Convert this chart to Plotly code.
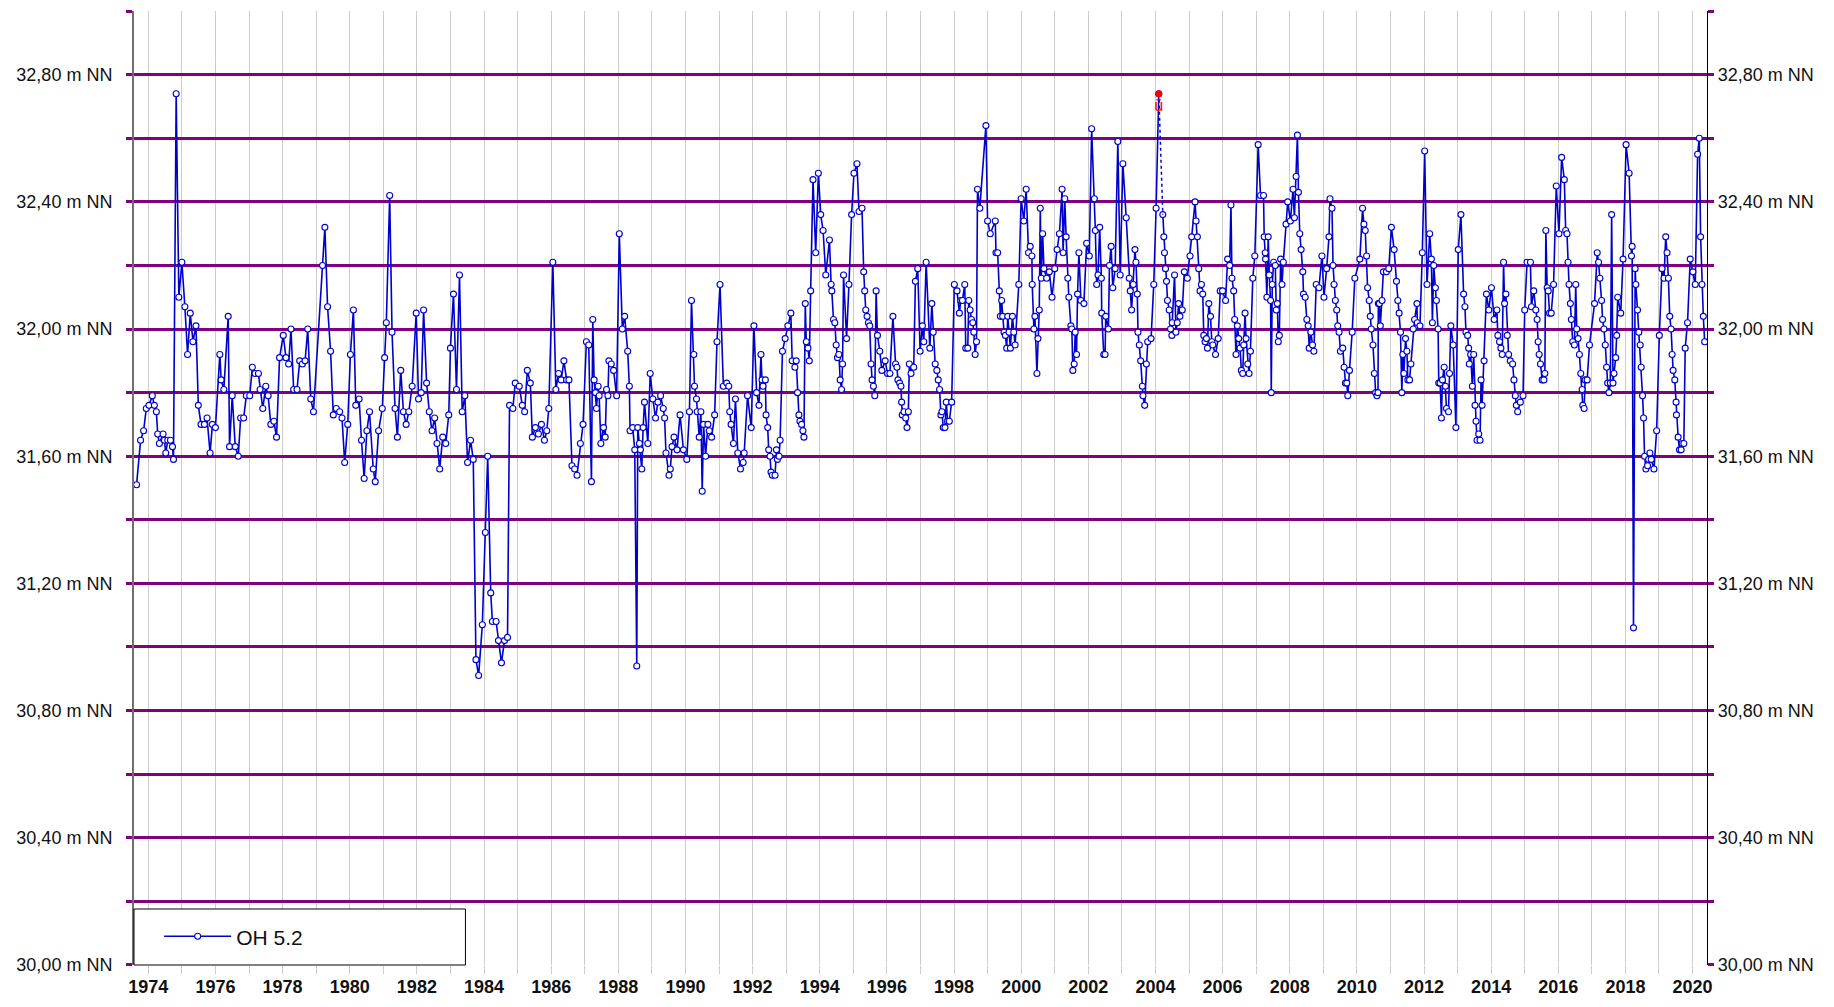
import plotly.graph_objects as go

# ---------------- data (decimal year, water level in m NN) ----------------
obs_1973_1979 = [
    (1973.65, 31.51), (1973.77, 31.65), (1973.86, 31.68), (1973.94, 31.75), (1974.02, 31.76),
    (1974.12, 31.79), (1974.18, 31.76), (1974.24, 31.74), (1974.28, 31.67), (1974.33, 31.64),
    (1974.44, 31.67), (1974.48, 31.65), (1974.52, 31.61), (1974.58, 31.65), (1974.66, 31.65),
    (1974.72, 31.63), (1974.75, 31.59), (1974.83, 32.74), (1974.91, 32.10), (1975.00, 32.21),
    (1975.09, 32.07), (1975.17, 31.92), (1975.25, 32.05), (1975.33, 31.96), (1975.42, 32.01),
    (1975.49, 31.76), (1975.57, 31.70), (1975.67, 31.70), (1975.75, 31.72), (1975.84, 31.61),
    (1975.91, 31.70), (1976.00, 31.69), (1976.13, 31.92), (1976.17, 31.84), (1976.25, 31.81),
    (1976.38, 32.04), (1976.42, 31.63), (1976.50, 31.79), (1976.59, 31.63), (1976.68, 31.60),
    (1976.75, 31.72), (1976.84, 31.72), (1976.92, 31.79), (1977.02, 31.79), (1977.10, 31.88),
    (1977.18, 31.86), (1977.28, 31.86), (1977.33, 31.81), (1977.41, 31.75), (1977.50, 31.82),
    (1977.57, 31.79), (1977.65, 31.70), (1977.74, 31.71), (1977.82, 31.66), (1977.91, 31.91),
    (1978.02, 31.98), (1978.10, 31.91), (1978.18, 31.89), (1978.25, 32.00), (1978.33, 31.81),
    (1978.43, 31.81), (1978.51, 31.90), (1978.59, 31.89), (1978.67, 31.90), (1978.75, 32.00),
    (1978.84, 31.78), (1978.92, 31.74), (1979.19, 32.20), (1979.26, 32.32),
]

obs_1979_1985 = [
    (1979.34, 32.07), (1979.43, 31.93), (1979.51, 31.73), (1979.60, 31.75), (1979.70, 31.74),
    (1979.77, 31.72), (1979.85, 31.58), (1979.94, 31.70), (1980.02, 31.92), (1980.11, 32.06),
    (1980.18, 31.76), (1980.28, 31.78), (1980.35, 31.65), (1980.43, 31.53), (1980.51, 31.68),
    (1980.59, 31.74), (1980.70, 31.56), (1980.76, 31.52), (1980.86, 31.68), (1980.97, 31.75),
    (1981.04, 31.91), (1981.09, 32.02), (1981.19, 32.42), (1981.26, 31.99), (1981.35, 31.75),
    (1981.42, 31.66), (1981.52, 31.87), (1981.60, 31.74), (1981.68, 31.70), (1981.76, 31.74),
    (1981.86, 31.82), (1981.98, 32.05), (1982.05, 31.78), (1982.13, 31.80), (1982.20, 32.06),
    (1982.29, 31.83), (1982.37, 31.74), (1982.45, 31.68), (1982.53, 31.72), (1982.60, 31.64),
    (1982.68, 31.56), (1982.77, 31.66), (1982.86, 31.64), (1982.95, 31.73), (1983.00, 31.94),
    (1983.09, 32.11), (1983.18, 31.81), (1983.27, 32.17), (1983.35, 31.74), (1983.43, 31.79),
    (1983.51, 31.58), (1983.60, 31.65), (1983.68, 31.59), (1983.76, 30.96), (1983.84, 30.91),
    (1983.95, 31.07), (1984.04, 31.36), (1984.11, 31.60), (1984.20, 31.17), (1984.25, 31.08),
    (1984.36, 31.08), (1984.43, 31.02), (1984.52, 30.95), (1984.61, 31.02), (1984.70, 31.03),
    (1984.76, 31.76), (1984.86, 31.75), (1984.93, 31.83), (1985.05, 31.82), (1985.14, 31.76),
    (1985.21, 31.74),
]

obs_1985_1991 = [
    (1985.29, 31.87), (1985.38, 31.83), (1985.44, 31.66), (1985.53, 31.69), (1985.62, 31.67),
    (1985.71, 31.70), (1985.80, 31.65), (1985.87, 31.68), (1985.93, 31.75), (1986.05, 32.21),
    (1986.14, 31.81), (1986.22, 31.86), (1986.30, 31.84), (1986.38, 31.90), (1986.46, 31.84),
    (1986.53, 31.84), (1986.62, 31.57), (1986.70, 31.56), (1986.77, 31.54), (1986.87, 31.64),
    (1986.95, 31.70), (1987.05, 31.96), (1987.12, 31.95), (1987.20, 31.52), (1987.24, 32.03),
    (1987.28, 31.84), (1987.32, 31.80), (1987.35, 31.75), (1987.40, 31.82), (1987.43, 31.79),
    (1987.48, 31.64), (1987.56, 31.69), (1987.61, 31.66), (1987.65, 31.81), (1987.69, 31.79),
    (1987.72, 31.90), (1987.79, 31.89), (1987.86, 31.87), (1987.95, 31.79), (1988.03, 32.30),
    (1988.12, 32.00), (1988.19, 32.04), (1988.28, 31.93), (1988.33, 31.82), (1988.35, 31.68),
    (1988.43, 31.69), (1988.49, 31.62), (1988.55, 30.94), (1988.58, 31.69), (1988.63, 31.64),
    (1988.66, 31.62), (1988.70, 31.56), (1988.74, 31.69), (1988.78, 31.77), (1988.88, 31.64),
    (1988.95, 31.86), (1989.03, 31.78), (1989.11, 31.72), (1989.18, 31.77), (1989.26, 31.79),
    (1989.34, 31.75), (1989.38, 31.72), (1989.42, 31.61), (1989.51, 31.54), (1989.55, 31.56),
    (1989.60, 31.63), (1989.66, 31.66), (1989.75, 31.62), (1989.84, 31.73), (1989.94, 31.62),
    (1990.04, 31.59), (1990.12, 31.74), (1990.18, 32.09), (1990.25, 31.92), (1990.27, 31.82),
    (1990.33, 31.78), (1990.35, 31.74), (1990.41, 31.66), (1990.46, 31.74), (1990.50, 31.49),
    (1990.54, 31.70), (1990.60, 31.60), (1990.67, 31.70), (1990.71, 31.68), (1990.78, 31.66),
    (1990.87, 31.73), (1990.94, 31.96), (1991.03, 32.14), (1991.13, 31.82),
]

obs_1991_1997 = [
    (1991.23, 31.83), (1991.29, 31.82), (1991.32, 31.74), (1991.36, 31.70), (1991.43, 31.64),
    (1991.49, 31.78), (1991.56, 31.61), (1991.64, 31.56), (1991.72, 31.58), (1991.75, 31.61),
    (1991.85, 31.79), (1991.96, 31.69), (1992.04, 32.01), (1992.12, 31.80), (1992.19, 31.76),
    (1992.25, 31.92), (1992.28, 31.84), (1992.31, 31.82), (1992.38, 31.84), (1992.40, 31.73),
    (1992.45, 31.69), (1992.48, 31.62), (1992.52, 31.60), (1992.55, 31.55), (1992.59, 31.54),
    (1992.67, 31.54), (1992.71, 31.62), (1992.74, 31.59), (1992.79, 31.60), (1992.82, 31.65),
    (1992.89, 31.93), (1992.97, 31.97), (1993.05, 32.01), (1993.14, 32.05), (1993.18, 31.90),
    (1993.26, 31.88), (1993.30, 31.90), (1993.34, 31.80), (1993.38, 31.73), (1993.41, 31.71),
    (1993.46, 31.70), (1993.50, 31.68), (1993.53, 31.66), (1993.57, 32.08), (1993.60, 31.96),
    (1993.65, 31.94), (1993.69, 31.90), (1993.73, 32.12), (1993.80, 32.47), (1993.88, 32.24),
    (1993.96, 32.49), (1994.03, 32.36), (1994.10, 32.31), (1994.18, 32.17), (1994.29, 32.28),
    (1994.34, 32.14), (1994.36, 32.12), (1994.41, 32.03), (1994.45, 32.02), (1994.49, 31.95),
    (1994.53, 31.91), (1994.57, 31.92), (1994.61, 31.84), (1994.65, 31.81), (1994.68, 31.89),
    (1994.71, 32.17), (1994.80, 31.97), (1994.87, 32.14), (1994.95, 32.36), (1995.02, 32.49),
    (1995.11, 32.52), (1995.17, 32.37), (1995.26, 32.38), (1995.31, 32.18), (1995.34, 32.12),
    (1995.37, 32.06), (1995.41, 32.04), (1995.45, 32.02), (1995.49, 32.01), (1995.53, 31.89),
    (1995.56, 31.84), (1995.60, 31.82), (1995.64, 31.79), (1995.68, 32.12), (1995.72, 31.98),
    (1995.79, 31.93), (1995.85, 31.87), (1995.95, 31.90), (1996.02, 31.86), (1996.09, 31.86),
    (1996.18, 32.04), (1996.26, 31.89), (1996.30, 31.88), (1996.33, 31.84), (1996.38, 31.83),
    (1996.42, 31.82), (1996.44, 31.77), (1996.46, 31.73), (1996.51, 31.74), (1996.56, 31.72),
    (1996.60, 31.69), (1996.64, 31.74), (1996.67, 31.89), (1996.72, 31.86), (1996.80, 31.88),
    (1996.85, 32.15), (1996.92, 32.19), (1996.99, 31.93), (1997.06, 32.01), (1997.10, 31.96),
]

obs_1997_2003 = [
    (1997.17, 32.21), (1997.28, 31.94), (1997.34, 32.08), (1997.38, 31.99), (1997.44, 31.89),
    (1997.49, 31.87), (1997.53, 31.84), (1997.57, 31.81), (1997.61, 31.73), (1997.64, 31.74),
    (1997.68, 31.69), (1997.73, 31.69), (1997.77, 31.77), (1997.81, 31.71), (1997.86, 31.71),
    (1997.93, 31.77), (1998.01, 32.14), (1998.09, 32.12), (1998.16, 32.05), (1998.20, 32.09),
    (1998.25, 32.09), (1998.32, 32.14), (1998.35, 31.94), (1998.41, 31.94), (1998.44, 32.09),
    (1998.48, 32.06), (1998.52, 32.03), (1998.56, 32.02), (1998.59, 31.99), (1998.63, 31.92),
    (1998.67, 31.96), (1998.70, 32.44), (1998.77, 32.38), (1998.95, 32.64), (1999.00, 32.34),
    (1999.08, 32.30), (1999.23, 32.34), (1999.25, 32.24), (1999.30, 32.24), (1999.35, 32.12),
    (1999.38, 32.04), (1999.42, 32.09), (1999.45, 32.04), (1999.49, 31.99), (1999.53, 31.98),
    (1999.57, 31.94), (1999.60, 32.04), (1999.64, 31.99), (1999.68, 31.94), (1999.74, 32.04),
    (1999.78, 31.99), (1999.82, 31.95), (1999.93, 32.14), (2000.00, 32.41), (2000.08, 32.34),
    (2000.15, 32.44), (2000.22, 32.24), (2000.27, 32.26), (2000.32, 32.23), (2000.33, 32.14),
    (2000.38, 32.00), (2000.41, 32.04), (2000.47, 31.86), (2000.50, 31.97), (2000.54, 32.06),
    (2000.57, 32.38), (2000.60, 32.16), (2000.64, 32.30), (2000.68, 32.19), (2000.76, 32.16),
    (2000.84, 32.18), (2000.92, 32.10), (2001.00, 32.19), (2001.07, 32.25), (2001.14, 32.30),
    (2001.22, 32.44), (2001.25, 32.24), (2001.30, 32.41), (2001.34, 32.29), (2001.39, 32.16),
    (2001.42, 32.10), (2001.48, 32.01), (2001.51, 32.00), (2001.54, 31.87), (2001.58, 31.89),
    (2001.61, 31.99), (2001.65, 31.92), (2001.68, 32.11), (2001.72, 32.24), (2001.78, 32.09),
    (2001.87, 32.08), (2001.95, 32.27), (2002.03, 32.23), (2002.10, 32.63), (2002.18, 32.41),
    (2002.21, 32.31), (2002.25, 32.14), (2002.29, 32.17), (2002.34, 32.32), (2002.39, 32.16),
    (2002.40, 32.05), (2002.46, 31.92), (2002.50, 31.92), (2002.52, 32.04), (2002.60, 32.00),
    (2002.63, 32.20), (2002.68, 32.26), (2002.73, 32.13), (2002.80, 32.19), (2002.88, 32.59),
    (2002.95, 32.17), (2003.03, 32.52),
]

obs_2003_2009 = [
    (2003.13, 32.35), (2003.22, 32.16), (2003.25, 32.12), (2003.29, 32.06), (2003.34, 32.14),
    (2003.39, 32.25), (2003.42, 32.21), (2003.46, 32.11), (2003.48, 31.99), (2003.52, 31.95),
    (2003.56, 31.90), (2003.61, 31.82), (2003.63, 31.79), (2003.68, 31.76), (2003.73, 31.89),
    (2003.77, 31.96), (2003.87, 31.97), (2003.95, 32.14), (2004.02, 32.38),
    (2004.22, 32.36), (2004.25, 32.29), (2004.27, 32.24), (2004.30, 32.19), (2004.33, 32.15),
    (2004.36, 32.09), (2004.41, 32.06), (2004.45, 32.00), (2004.49, 31.98), (2004.50, 32.02),
    (2004.57, 32.17), (2004.61, 31.99), (2004.65, 32.02), (2004.69, 32.08), (2004.73, 32.04),
    (2004.80, 32.06), (2004.86, 32.18), (2004.95, 32.16), (2005.03, 32.23), (2005.08, 32.29),
    (2005.18, 32.40), (2005.21, 32.34), (2005.25, 32.29), (2005.29, 32.19), (2005.33, 32.12),
    (2005.37, 32.14), (2005.41, 32.11), (2005.44, 31.98), (2005.48, 31.96), (2005.52, 31.97),
    (2005.55, 31.94), (2005.59, 32.08), (2005.64, 32.04), (2005.68, 31.96), (2005.71, 31.95),
    (2005.79, 31.92), (2005.87, 31.97), (2005.93, 32.12), (2006.00, 32.12), (2006.09, 32.09),
    (2006.15, 32.22), (2006.21, 32.20), (2006.25, 32.39), (2006.28, 32.16), (2006.33, 32.12),
    (2006.36, 32.03), (2006.40, 31.92), (2006.44, 32.01), (2006.48, 31.97), (2006.52, 31.94),
    (2006.56, 31.87), (2006.60, 31.86), (2006.63, 31.95), (2006.67, 32.05), (2006.70, 31.97),
    (2006.75, 31.89), (2006.79, 31.86), (2006.83, 31.93), (2006.90, 32.16), (2006.96, 32.23),
    (2007.06, 32.58), (2007.13, 32.42), (2007.22, 32.42), (2007.24, 32.29), (2007.27, 32.24),
    (2007.28, 32.22), (2007.32, 32.10), (2007.36, 32.29), (2007.39, 32.17), (2007.43, 32.09),
    (2007.45, 31.80), (2007.48, 32.14), (2007.52, 32.21), (2007.57, 32.20), (2007.60, 32.06),
    (2007.63, 32.08), (2007.66, 31.96), (2007.69, 31.98), (2007.73, 32.22), (2007.77, 32.14),
    (2007.81, 32.21), (2007.89, 32.33), (2007.94, 32.40), (2008.02, 32.34), (2008.10, 32.44),
    (2008.14, 32.35), (2008.19, 32.48), (2008.23, 32.61), (2008.26, 32.43), (2008.30, 32.30),
    (2008.34, 32.25), (2008.39, 32.18), (2008.41, 32.11), (2008.46, 32.10), (2008.51, 32.03),
    (2008.55, 32.01), (2008.58, 31.94), (2008.63, 31.99), (2008.68, 31.95), (2008.72, 31.93),
    (2008.79, 32.14), (2008.87, 32.13), (2008.96, 32.23), (2009.02, 32.10),
]

obs_2009_2015 = [
    (2009.10, 32.19), (2009.17, 32.29), (2009.20, 32.41), (2009.26, 32.38), (2009.29, 32.20),
    (2009.32, 32.14), (2009.36, 32.09), (2009.40, 32.06), (2009.43, 32.01), (2009.47, 31.99),
    (2009.51, 31.93), (2009.58, 31.94), (2009.62, 31.88), (2009.66, 31.83), (2009.70, 31.83),
    (2009.73, 31.79), (2009.78, 31.87), (2009.86, 31.99), (2009.94, 32.16), (2010.09, 32.22),
    (2010.17, 32.38), (2010.21, 32.33), (2010.25, 32.31), (2010.29, 32.23), (2010.32, 32.13),
    (2010.37, 32.09), (2010.40, 32.04), (2010.43, 32.00), (2010.48, 31.95), (2010.52, 31.86),
    (2010.56, 31.80), (2010.60, 31.79), (2010.63, 31.80), (2010.64, 32.08), (2010.67, 32.08),
    (2010.70, 32.01), (2010.75, 32.09), (2010.79, 32.18), (2010.88, 32.18), (2010.95, 32.19),
    (2011.03, 32.32), (2011.11, 32.25), (2011.18, 32.15), (2011.22, 32.09), (2011.26, 32.05),
    (2011.30, 31.99), (2011.34, 31.80), (2011.37, 31.92), (2011.40, 31.86), (2011.45, 31.97),
    (2011.49, 31.93), (2011.52, 31.84), (2011.57, 31.84), (2011.61, 31.89), (2011.68, 32.00),
    (2011.72, 32.03), (2011.79, 32.08), (2011.80, 32.02), (2011.88, 32.01), (2011.95, 32.24),
    (2012.02, 32.56), (2012.09, 32.14), (2012.17, 32.30), (2012.22, 32.22), (2012.25, 32.02),
    (2012.29, 32.20), (2012.34, 32.13), (2012.37, 32.09), (2012.42, 32.00), (2012.44, 31.83),
    (2012.48, 31.83), (2012.52, 31.72), (2012.55, 31.84), (2012.60, 31.88), (2012.64, 31.82),
    (2012.67, 31.75), (2012.73, 31.74), (2012.76, 31.86), (2012.80, 32.01), (2012.87, 31.95),
    (2012.95, 31.69), (2013.02, 32.25), (2013.10, 32.36), (2013.18, 32.11), (2013.22, 32.07),
    (2013.25, 31.99), (2013.30, 31.98), (2013.33, 31.94), (2013.35, 31.89), (2013.39, 31.92),
    (2013.44, 31.82), (2013.48, 31.92), (2013.52, 31.76), (2013.55, 31.71), (2013.58, 31.65),
    (2013.63, 31.67), (2013.67, 31.65), (2013.70, 31.84), (2013.73, 31.76), (2013.79, 31.90),
    (2013.86, 32.11), (2013.93, 32.06), (2014.01, 32.13), (2014.09, 32.03), (2014.17, 32.06),
    (2014.20, 31.98), (2014.25, 31.96), (2014.29, 31.94), (2014.33, 31.92), (2014.37, 32.21),
    (2014.40, 32.08), (2014.44, 32.11), (2014.48, 31.98), (2014.52, 31.92), (2014.57, 31.90),
    (2014.64, 31.89), (2014.68, 31.84), (2014.72, 31.79), (2014.75, 31.76), (2014.79, 31.74),
    (2014.87, 31.77), (2014.95, 31.79), (2015.00, 32.06),
]

obs_2015_2020 = [
    (2015.07, 32.21), (2015.17, 32.21), (2015.20, 32.07), (2015.27, 32.12), (2015.33, 32.06),
    (2015.37, 32.03), (2015.40, 31.96), (2015.43, 31.92), (2015.47, 31.89), (2015.52, 31.84),
    (2015.57, 31.84), (2015.60, 31.86), (2015.63, 32.31), (2015.67, 32.13), (2015.70, 32.12),
    (2015.74, 32.05), (2015.79, 32.05), (2015.86, 32.14), (2015.94, 32.45), (2016.02, 32.30),
    (2016.10, 32.54), (2016.18, 32.47), (2016.22, 32.31), (2016.26, 32.30), (2016.29, 32.21),
    (2016.32, 32.14), (2016.36, 32.08), (2016.39, 32.03), (2016.43, 31.96), (2016.48, 31.95),
    (2016.52, 32.14), (2016.55, 32.00), (2016.59, 31.97), (2016.63, 31.92), (2016.67, 31.86),
    (2016.71, 31.81), (2016.73, 31.76), (2016.77, 31.75), (2016.80, 31.84), (2016.86, 31.84),
    (2016.93, 31.95), (2017.08, 32.08), (2017.16, 32.24), (2017.20, 32.21), (2017.24, 32.16),
    (2017.29, 32.09), (2017.32, 32.03), (2017.36, 32.00), (2017.40, 31.95), (2017.44, 31.88),
    (2017.47, 31.83), (2017.51, 31.80), (2017.55, 31.83), (2017.59, 32.36), (2017.63, 31.83),
    (2017.66, 31.86), (2017.71, 31.91), (2017.74, 31.98), (2017.77, 32.10), (2017.86, 32.05),
    (2017.93, 32.22), (2018.02, 32.58), (2018.11, 32.49), (2018.18, 32.23), (2018.20, 32.26),
    (2018.24, 31.06), (2018.29, 32.19), (2018.31, 32.14), (2018.36, 32.06), (2018.40, 31.99),
    (2018.44, 31.95), (2018.47, 31.88), (2018.51, 31.79), (2018.54, 31.72), (2018.57, 31.60),
    (2018.61, 31.56), (2018.66, 31.57), (2018.69, 31.59), (2018.73, 31.61), (2018.77, 31.59),
    (2018.85, 31.56), (2018.93, 31.68), (2019.01, 31.98), (2019.09, 32.19), (2019.15, 32.16),
    (2019.20, 32.29), (2019.24, 32.24), (2019.28, 32.16), (2019.32, 32.04), (2019.36, 32.00),
    (2019.39, 31.92), (2019.42, 31.87), (2019.47, 31.84), (2019.51, 31.77), (2019.52, 31.73),
    (2019.57, 31.66), (2019.61, 31.62), (2019.66, 31.62), (2019.69, 31.64), (2019.74, 31.64),
    (2019.78, 31.94), (2019.85, 32.02), (2019.93, 32.22), (2020.01, 32.18), (2020.08, 32.14),
    (2020.15, 32.55), (2020.20, 32.60), (2020.24, 32.29), (2020.28, 32.14), (2020.32, 32.04),
    (2020.36, 31.96),
]

flagged_obs = (2004.10, 32.74)   # red flagged measurement
flag_label = "ü"
series_name = "OH 5.2"

x_grid_years = [1974, 1975, 1976, 1977, 1978, 1979, 1980, 1981, 1982, 1983, 1984, 1985,
                1986, 1987, 1988, 1989, 1990, 1991, 1992, 1993, 1994, 1995, 1996, 1997,
                1998, 1999, 2000, 2001, 2002, 2003, 2004, 2005, 2006, 2007, 2008, 2009,
                2010, 2011, 2012, 2013, 2014, 2015, 2016, 2017, 2018, 2019, 2020]
x_label_years = [1974, 1976, 1978, 1980, 1982, 1984, 1986, 1988, 1990, 1992, 1994, 1996,
                 1998, 2000, 2002, 2004, 2006, 2008, 2010, 2012, 2014, 2016, 2018, 2020]
y_grid_levels = [30.0, 30.2, 30.4, 30.6, 30.8, 31.0, 31.2, 31.4, 31.6, 31.8,
                 32.0, 32.2, 32.4, 32.6, 32.8, 33.0]
y_label_levels = [30.0, 30.4, 30.8, 31.2, 31.6, 32.0, 32.4, 32.8]

# ---------------- build ----------------
all_obs = (obs_1973_1979 + obs_1979_1985 + obs_1985_1991 + obs_1991_1997 +
           obs_1997_2003 + obs_2003_2009 + obs_2009_2015 + obs_2015_2020)
all_obs.sort(key=lambda p: p[0])
ft, fh = flagged_obs
pre = [p for p in all_obs if p[0] < ft]
post = [p for p in all_obs if p[0] > ft]

main_x = [p[0] for p in pre] + [ft, None] + [p[0] for p in post]
main_y = [p[1] for p in pre] + [fh, None] + [p[1] for p in post]

BLUE = "#0000CC"
PURPLE = "#800080"
GRID_GREY = "#cccccc"
FONT = "Liberation Sans, Arial, sans-serif"

x_ticktext = [str(y) if y in x_label_years else "" for y in x_grid_years]
y_ticktext = [(f"{v:.2f}".replace(".", ",") + " m NN") if v in y_label_levels else ""
              for v in y_grid_levels]

fig = go.Figure()
fig.add_trace(go.Scatter(
    x=main_x, y=main_y, name=series_name, mode="lines+markers",
    connectgaps=False,
    line=dict(color=BLUE, width=1.6),
    marker=dict(symbol="circle", size=6, color="white", line=dict(color=BLUE, width=1.1)),
    hoverinfo="x+y",
))
fig.add_trace(go.Scatter(
    x=[ft, post[0][0]], y=[fh, post[0][1]], mode="lines", showlegend=False,
    line=dict(color=BLUE, width=1.5, dash="dot"), hoverinfo="skip",
))
fig.add_trace(go.Scatter(
    x=[ft], y=[fh], mode="markers+text", showlegend=False,
    text=[flag_label], textposition="bottom center",
    textfont=dict(family=FONT, size=16, color="#ff0000"),
    marker=dict(symbol="circle", size=7, color="#ff0000"),
    hoverinfo="x+y",
))
# invisible trace anchoring the right-hand axis
fig.add_trace(go.Scatter(
    x=[ft], y=[fh], yaxis="y2", mode="markers", showlegend=False,
    marker=dict(opacity=0), hoverinfo="skip",
))

fig.add_shape(type="rect", xref="x domain", yref="y domain",
              x0=0, x1=0.2107, y0=0, y1=0.0587,
              fillcolor="white", line=dict(color="black", width=1), layer="above")

tick_font = dict(family=FONT, size=18, color="#111111")

fig.update_layout(
    width=1818, height=991,
    margin=dict(l=126, r=119, t=3, b=34, pad=0, autoexpand=False),
    paper_bgcolor="white", plot_bgcolor="white",
    showlegend=True,
    legend=dict(x=0.016, y=0.0297, xanchor="left", yanchor="middle",
                bgcolor="rgba(0,0,0,0)", borderwidth=0, itemwidth=67,
                font=dict(family=FONT, size=21, color="#111111")),
    xaxis=dict(
        range=[1973.574, 2020.43], tickmode="array", tickvals=x_grid_years, ticktext=x_ticktext,
        showgrid=True, gridcolor=GRID_GREY, gridwidth=1.3, zeroline=False, showline=False,
        ticks="outside", ticklen=8, tickwidth=1.3, tickcolor=GRID_GREY,
        tickfont=dict(family=FONT, size=18, color="#111111", weight="bold"),
        ticklabelstandoff=-3, automargin=False,
    ),
    yaxis=dict(
        range=[29.9995, 33.0005], tickmode="array", tickvals=y_grid_levels, ticktext=y_ticktext,
        showgrid=True, gridcolor=PURPLE, gridwidth=2.7, zeroline=False,
        showline=True, linecolor="#707070", linewidth=2,
        ticks="outside", ticklen=6, tickwidth=2.7, tickcolor=PURPLE,
        tickfont=tick_font, ticklabelstandoff=10, automargin=False,
    ),
    yaxis2=dict(
        overlaying="y", side="right", matches="y",
        tickmode="array", tickvals=y_grid_levels, ticktext=y_ticktext,
        showgrid=False, zeroline=False,
        showline=True, linecolor="black", linewidth=1.3,
        ticks="outside", ticklen=6, tickwidth=2.7, tickcolor=PURPLE,
        tickfont=tick_font, ticklabelstandoff=0, automargin=False,
    ),
)

fig.write_html("out.html")
